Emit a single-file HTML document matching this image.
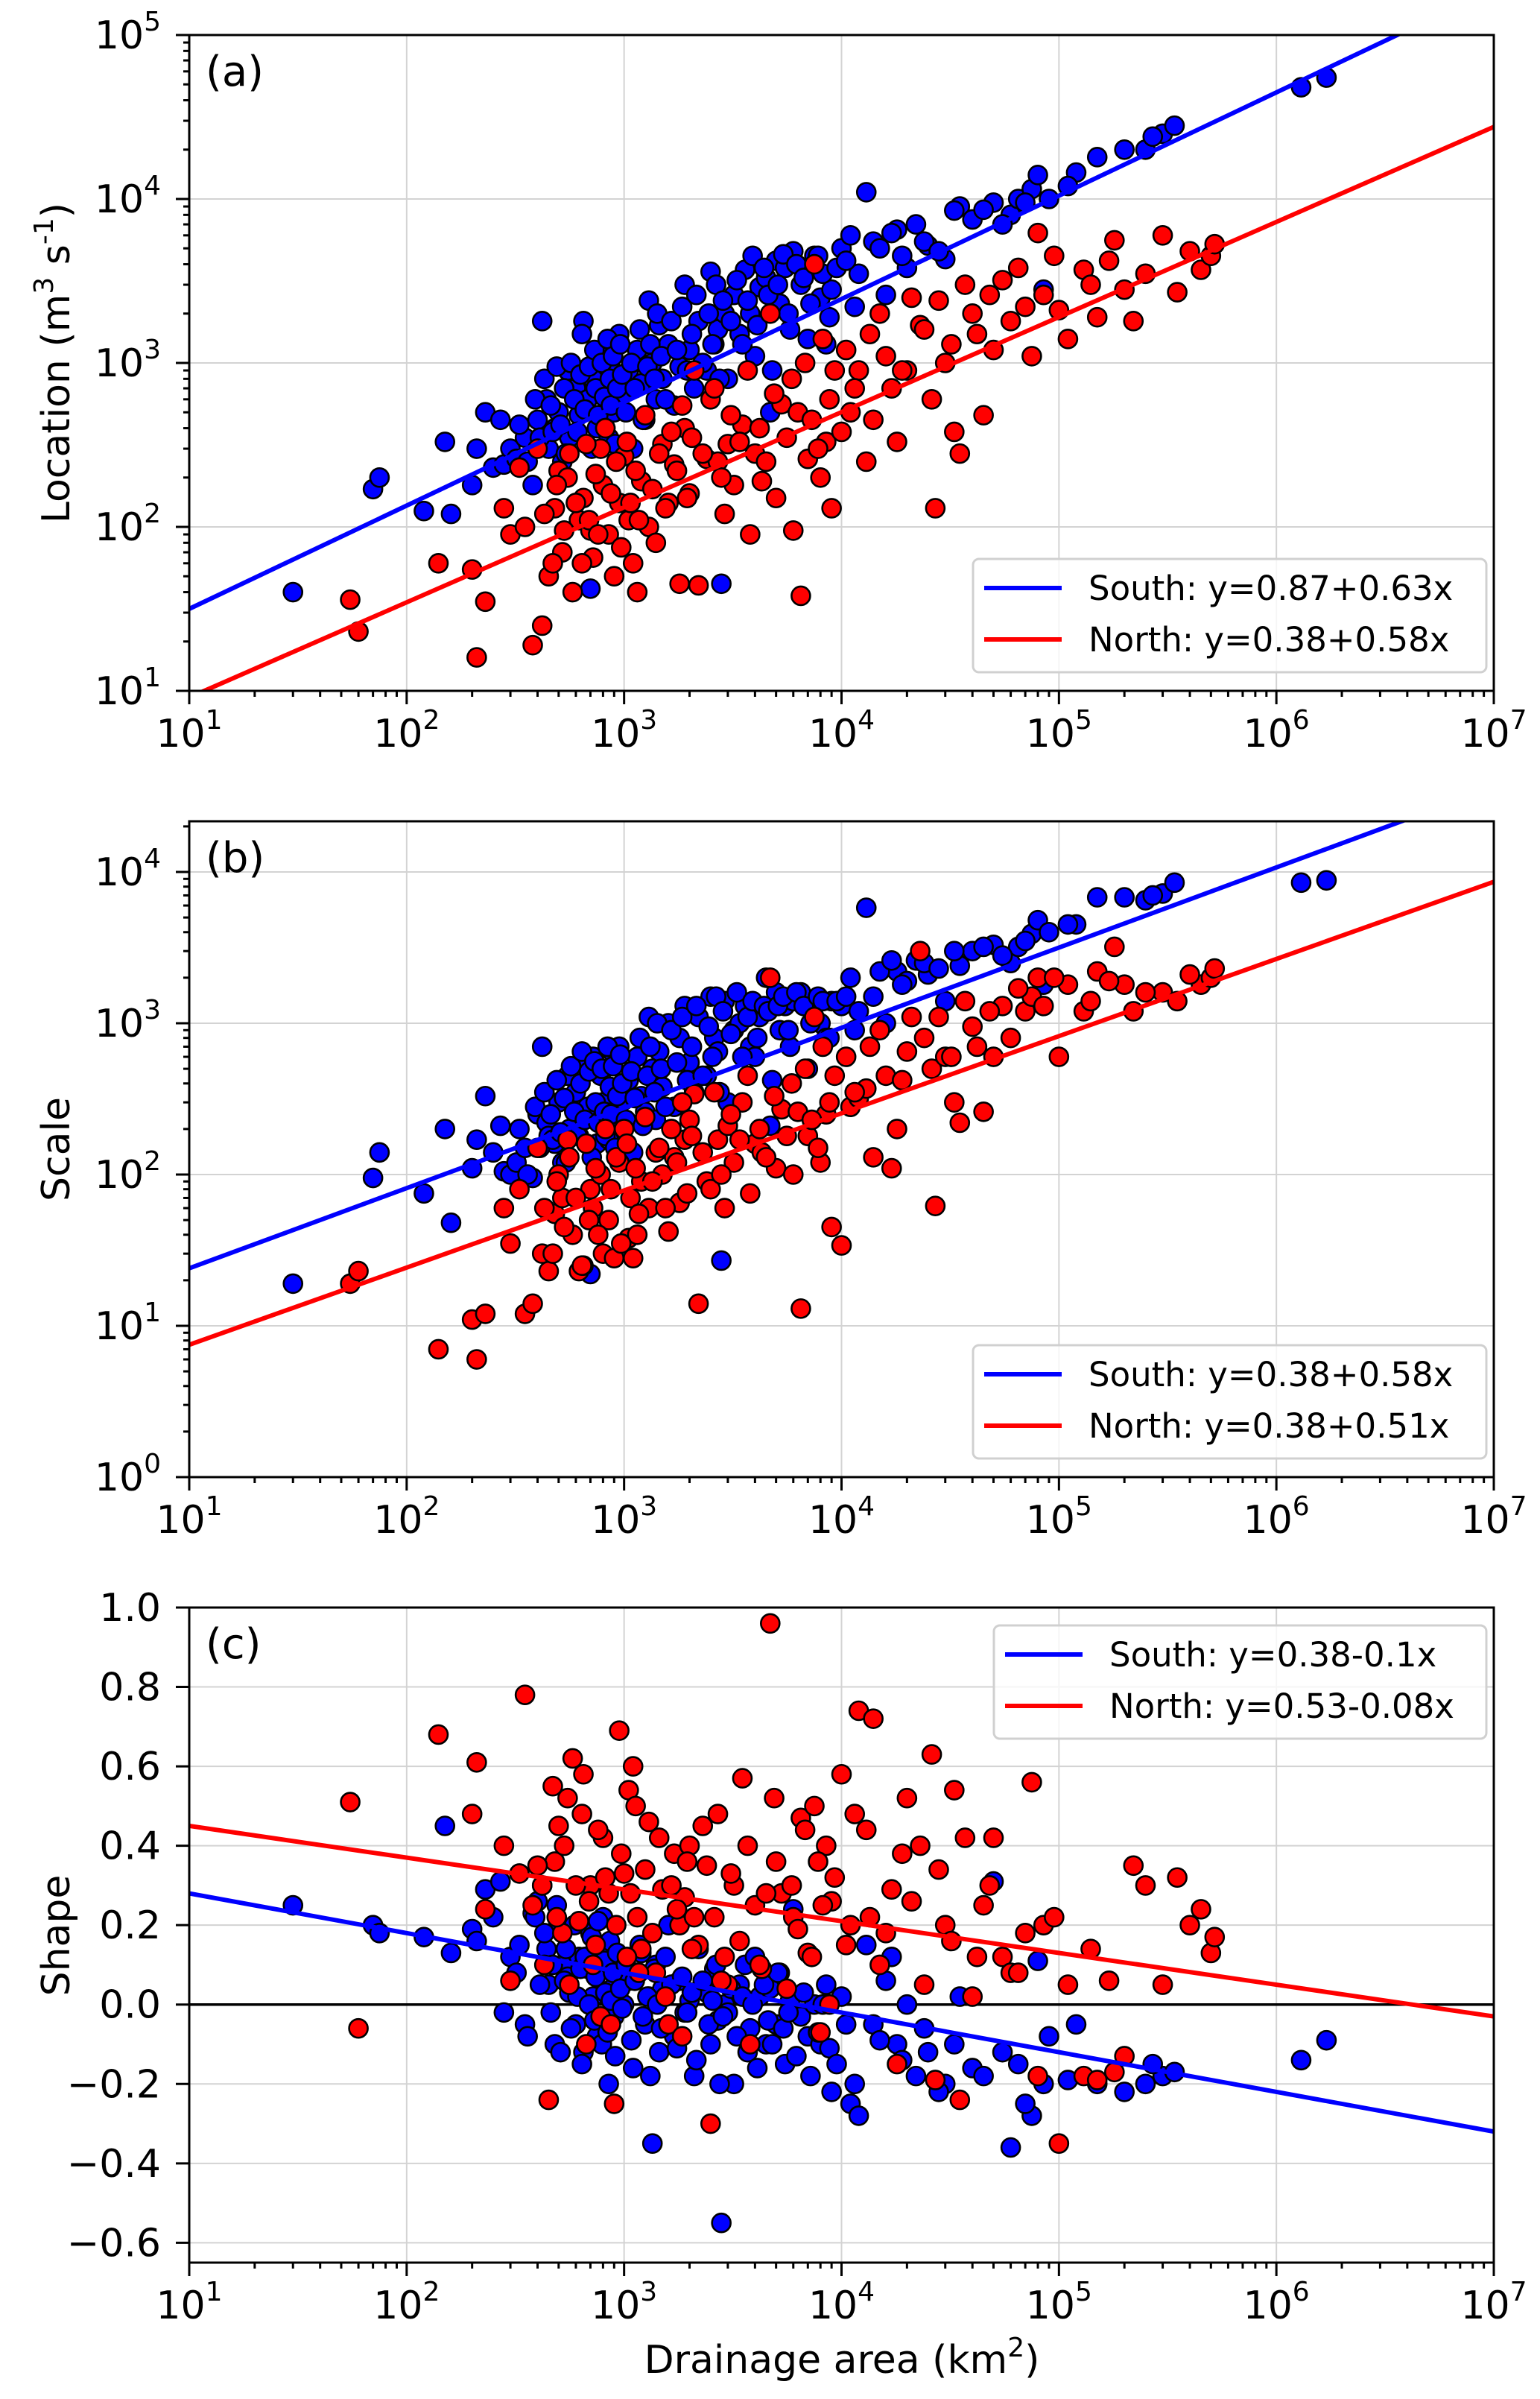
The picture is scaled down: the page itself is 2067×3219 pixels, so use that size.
<!DOCTYPE html>
<html><head><meta charset="utf-8"><style>
html,body{margin:0;padding:0;background:#fff}
svg{display:block;font-family:"DejaVu Sans","Liberation Sans",sans-serif}
</style></head><body>
<svg id="fig" width="2067" height="3219" viewBox="0 0 2067 3219" xmlns="http://www.w3.org/2000/svg">
<rect width="2067" height="3219" fill="#fff"/>
</svg>
<script>
// ---------- DATA ----------
const southArea1 = [30,70,75,120,150,160,200,210,230,250,270,280,300,320,350,380,400,420,440,450,480,500,520,550,560,600,620,650,680,700,720,750,780,800,850,880,900,950,1000,1050,1100,1150,1200,1250,1300,1350,1400,1450,1500,1600,1700,1800,1900,2000,2100,2200,2400,2500,2600,2700,2800,2900,3000,3200,3400,3600,3800,4000,4200,4500,4700,5000,5200,5500,5800,6000,6500,7000,7500,8000,8500,9000,10000,11000,12000,13000,14000,16000,18000,20000,22000,25000,30000,35000,40000,50000,60000,65000,75000,80000,85000,120000,150000,200000,300000,340000,1300000,1700000];
const southLocation1 = [40,170,200,125,330,120,180,300,500,230,450,240,300,260,350,180,450,1800,600,300,400,500,250,900,350,700,480,1800,600,42,800,400,1100,700,350,900,500,1500,650,900,300,1200,750,450,2400,1000,600,1700,800,1300,550,950,3000,1200,700,1800,900,3600,1300,1600,45,2000,800,2600,1500,3700,2000,1100,2900,3300,500,4200,2300,3800,1600,4800,3000,1400,4500,2500,1300,2800,5000,6000,3500,11000,5500,2600,6500,3800,7000,5200,4300,9000,7500,9500,8000,10000,11500,14000,2800,14500,18000,20000,25000,28000,48000,55000];
const southScale1 = [19,95,140,75,200,48,110,170,330,140,210,105,100,120,150,95,250,700,220,180,160,300,120,450,200,350,180,500,280,22,600,160,450,300,170,650,220,700,310,420,140,600,330,260,1100,500,230,650,380,1000,280,800,1300,550,350,1100,450,1500,800,650,27,1400,300,900,1000,1300,700,600,1100,2000,210,1600,900,1300,700,1400,1600,500,1300,1000,800,1400,1300,2000,1200,5800,1500,1000,2200,1900,2600,2100,1400,2400,3000,3300,2500,3200,3900,4800,1800,4500,6800,6800,7200,8500,8500,8800];
const southShape1 = [0.25,0.20,0.18,0.17,0.45,0.13,0.19,0.16,0.29,0.22,0.31,-0.02,0.12,0.08,-0.05,0.23,0.26,0.30,0.14,0.05,-0.10,0.20,0.10,0.07,0.03,-0.05,0.12,-0.12,0.09,0.18,0.02,-0.08,0.15,0.22,-0.20,0.04,-0.03,0.11,0.00,0.06,-0.16,0.08,0.13,-0.05,0.02,-0.35,0.10,-0.12,0.04,0.20,-0.08,0.06,-0.02,0.01,-0.18,0.14,0.03,-0.10,0.09,-0.04,-0.55,0.00,-0.02,-0.20,0.05,0.10,-0.06,0.12,0.02,-0.10,0.04,-0.05,0.08,-0.15,0.01,0.24,-0.03,-0.08,0.00,-0.10,0.05,-0.22,0.02,-0.25,-0.28,0.15,-0.05,0.06,-0.10,0.00,-0.18,-0.12,-0.20,0.02,-0.16,0.31,-0.36,-0.15,-0.28,0.11,-0.20,-0.05,-0.20,-0.22,-0.18,-0.17,-0.14,-0.09];

const southArea2 = [330,360,390,410,430,460,470,490,510,530,540,570,590,610,630,640,660,690,710,730,740,760,790,810,820,840,860,870,890,910,930,960,980,1020,1080,1120,1180,1220,1280,1320,1380,1420,1480,1550,1650,1750,1850,1950,2050,2150,2300,2450,2550,2650,2750,2850,3100,3300,3500,3700,3900,4100,4400,4600,4800,5100,5400,5700,6200,6700,7200,7800,8200,8800,9500,10500,11500,15000,17000,19000,24000,28000,33000,45000,55000,70000,90000,110000,250000,270000];
const southLocation2 = [420,250,600,350,800,550,380,950,420,700,280,1000,600,380,850,1500,520,950,300,1200,700,480,1000,620,400,1400,800,550,1100,320,700,1300,850,500,1000,700,1600,450,950,1300,800,2000,1100,600,1800,1200,2200,900,1500,2600,1000,2000,1300,3000,800,2400,1800,3200,1300,2400,4500,1700,3800,2600,900,3000,4600,2000,4000,3300,2300,4500,3500,1900,3800,4200,2200,5000,6200,4500,5500,4800,8500,8600,7000,9500,10000,12000,20000,24000];
const southScale2 = [200,100,280,150,350,250,170,420,190,320,120,520,260,180,400,650,230,480,130,560,300,220,500,260,180,700,380,250,520,150,330,620,400,230,480,320,800,210,450,700,350,1000,500,280,900,550,1100,420,700,1300,450,950,600,1500,350,1200,850,1600,600,1100,1400,800,1300,1200,420,1300,1500,900,1600,1300,1000,1500,1400,800,1400,1500,900,2200,2600,1800,2500,2300,3000,3200,2800,3500,4000,4500,6500,7000];
const southShape2 = [0.15,-0.08,0.22,0.05,0.18,-0.02,0.10,0.25,-0.12,0.06,0.14,-0.06,0.20,0.02,0.09,-0.15,0.12,0.00,0.17,-0.04,0.07,0.21,-0.10,0.11,0.03,-0.07,0.16,0.01,0.08,-0.13,0.13,0.04,-0.01,0.10,-0.09,0.06,0.15,-0.03,0.02,-0.18,0.09,0.00,-0.06,0.12,0.05,-0.11,0.07,-0.02,0.03,-0.14,0.06,-0.05,0.01,0.10,-0.20,-0.03,0.04,-0.08,0.02,-0.12,0.00,-0.16,0.05,-0.04,-0.10,0.08,-0.06,-0.02,-0.13,0.03,-0.18,-0.07,0.00,-0.11,-0.15,-0.05,-0.20,-0.09,0.12,-0.14,-0.06,-0.22,-0.10,-0.18,-0.12,-0.25,-0.08,-0.19,-0.20,-0.15];

const northArea1 = [55,60,140,200,210,230,280,300,330,350,380,420,450,480,500,520,550,580,620,650,700,720,780,800,850,900,950,1000,1050,1100,1150,1200,1300,1400,1500,1600,1700,1800,1900,2000,2100,2200,2400,2500,2700,2900,3000,3200,3500,3800,4000,4300,4700,5000,5300,6000,6500,7000,7500,8000,8500,9000,10000,11000,12000,13000,14000,16000,17000,18000,20000,23000,26000,27000,30000,33000,35000,40000,45000,50000,55000,60000,70000,75000,80000,100000,110000,130000,150000,180000,200000,220000,300000,350000,450000,500000,520000];
const northLocation1 = [36,23,60,55,16,35,130,90,230,100,19,25,50,130,220,70,200,40,110,150,95,65,300,180,90,50,140,270,110,60,40,190,100,80,320,140,240,45,400,160,900,44,260,600,250,120,320,180,420,90,280,190,2000,150,560,95,38,260,4000,200,330,130,380,500,900,250,450,1100,700,330,900,1700,600,130,1000,380,280,2000,480,1200,3200,1800,2200,1100,6200,2100,1400,3700,1900,5600,2800,1800,6000,2700,3700,4500,5300];
const northScale1 = [19,23,7,11,6,12,60,35,80,12,14,30,23,55,100,70,170,40,23,25,80,60,100,30,50,28,120,200,38,28,40,90,60,140,100,42,130,65,170,230,340,14,90,80,170,60,210,120,300,75,160,140,2000,110,270,100,13,180,1100,120,250,45,34,280,320,370,130,450,110,200,650,3000,500,62,600,300,220,950,260,600,1300,800,1200,1500,2000,600,1800,1200,2200,3200,1800,1200,1600,1400,1800,2000,2300];
const northShape1 = [0.51,-0.06,0.68,0.48,0.61,0.24,0.40,0.06,0.33,0.78,0.25,0.30,-0.24,0.36,0.45,0.18,0.52,0.62,0.21,0.58,0.30,0.10,-0.03,0.42,0.28,-0.25,0.69,0.33,0.54,0.60,0.22,0.14,0.46,0.08,0.29,-0.05,0.38,0.20,0.27,0.40,0.22,0.15,0.35,-0.30,0.48,0.12,0.05,0.30,0.57,-0.10,0.25,0.09,0.96,0.36,0.28,0.22,0.47,0.13,0.50,-0.07,0.40,0.26,0.58,0.20,0.74,0.44,0.72,0.18,0.29,-0.15,0.52,0.40,0.63,-0.19,0.20,0.54,-0.24,0.02,0.25,0.42,0.12,0.08,0.18,0.56,-0.18,-0.35,0.05,-0.18,-0.19,-0.17,-0.13,0.35,0.05,0.32,0.24,0.13,0.17];

const northArea2 = [400,430,470,490,530,560,600,640,670,690,740,760,820,870,920,970,1030,1070,1130,1170,1250,1350,1450,1550,1650,1750,1850,1950,2050,2300,2600,2800,3100,3400,3700,4200,4500,4900,5600,5900,6300,6800,7300,7800,8200,8800,9300,10500,11500,13500,15000,19000,21000,24000,28000,32000,37000,42000,48000,65000,85000,95000,140000,170000,250000,400000];
const northLocation2 = [300,120,60,180,95,280,140,60,320,110,210,90,400,160,250,75,330,140,220,110,480,170,280,130,380,220,550,150,350,280,700,200,480,330,900,400,250,650,350,800,500,1000,450,300,1400,600,900,1200,700,1500,2000,900,2500,1600,2400,1300,3000,1500,2600,3800,2600,4500,3000,4200,3500,4800];
const northScale2 = [150,60,30,90,45,130,70,25,160,50,110,40,200,80,130,35,160,70,110,55,240,90,150,60,200,120,300,75,180,140,350,100,250,170,450,200,130,330,180,400,260,500,230,150,700,300,450,600,350,700,900,420,1100,800,1100,600,1400,700,1200,1700,1300,2000,1400,1900,1600,2100];
const northShape2 = [0.35,0.10,0.55,0.22,0.40,0.05,0.30,0.48,-0.10,0.26,0.15,0.44,0.32,-0.05,0.20,0.38,0.12,0.28,0.50,0.08,0.34,0.18,0.42,0.02,0.30,0.24,-0.08,0.36,0.14,0.45,0.22,0.06,0.33,0.16,0.40,0.10,0.28,0.52,0.04,0.30,0.19,0.44,0.12,0.36,0.25,0.00,0.32,0.15,0.48,0.22,0.10,0.38,0.26,0.05,0.34,0.16,0.42,0.12,0.30,0.08,0.20,0.22,0.14,0.06,0.30,0.20];

const southArea = southArea1.concat(southArea2);
const southLocation = southLocation1.concat(southLocation2);
const southScale = southScale1.concat(southScale2);
const southShape = southShape1.concat(southShape2);
const northArea = northArea1.concat(northArea2);
const northLocation = northLocation1.concat(northLocation2);
const northScale = northScale1.concat(northScale2);
const northShape = northShape1.concat(northShape2);

// regression lines: y = a + b*log10(x)  (log10 of y for panels a,b)
const fitA = {south:[0.87,0.63], north:[0.38,0.58]};
const fitB = {south:[0.85,0.53], north:[0.365,0.51]};
const fitC = {south:[0.38,-0.10], north:[0.53,-0.08]};
const legendA = ["South: y=0.87+0.63x","North: y=0.38+0.58x"];
const legendB = ["South: y=0.38+0.58x","North: y=0.38+0.51x"];
const legendC = ["South: y=0.38-0.1x","North: y=0.53-0.08x"];
const xDecades = [1,2,3,4,5,6,7];
const yTicksC = [1.0,0.8,0.6,0.4,0.2,0.0,-0.2,-0.4,-0.6];

// ---------- LAYOUT ----------
const NS="http://www.w3.org/2000/svg";
const svg=document.getElementById('fig');
const L=254,R=2005;
const xs=v=>L+(Math.log10(v)-1)*(R-L)/6;
function el(tag,attrs,parent){const e=document.createElementNS(NS,tag);for(const k in attrs)e.setAttribute(k,attrs[k]);(parent||svg).appendChild(e);return e;}

const panels=[
 {key:'a',top:47,bot:927,log:true,ymin:1,ymax:5,south:southLocation,north:northLocation,fit:fitA,leg:legendA,legPos:[1306,750,689],label:'(a)'},
 {key:'b',top:1102,bot:1982,log:true,ymin:0,ymax:4.335,south:southScale,north:northScale,fit:fitB,leg:legendB,legPos:[1306,1805,689],label:'(b)'},
 {key:'c',top:2157,bot:3036,log:false,ymin:-0.65,ymax:1.0,south:southShape,north:northShape,fit:fitC,leg:legendC,legPos:[1334,2181,661],label:'(c)'}
];

panels.forEach(p=>{
  const ys=v=>{const t=p.log?Math.log10(v):v;return p.bot-(t-p.ymin)/(p.ymax-p.ymin)*(p.bot-p.top);};
  const ysl=t=>p.bot-(t-p.ymin)/(p.ymax-p.ymin)*(p.bot-p.top);
  const g=el('g',{});
  
  
  const cp=el('clipPath',{id:'clip'+p.key},g);
  el('rect',{x:L,y:p.top,width:R-L,height:p.bot-p.top},cp);
  const grid=el('g',{stroke:'#d3d3d3','stroke-width':2},g);
  
  
  xDecades.forEach(d=>{const x=L+(d-1)*(R-L)/6;el('line',{x1:x,x2:x,y1:p.top,y2:p.bot},grid);});
  let yMajors=[];
  if(p.log){for(let d=Math.ceil(p.ymin);d<=p.ymax;d++)yMajors.push(d);}
  else yMajors=yTicksC;
  yMajors.forEach(t=>{const y=ysl(t);el('line',{x1:L,x2:R,y1:y,y2:y},grid);});
  if(p.key==='c'){const z=el('line',{x1:L,x2:R,y1:ysl(0),y2:ysl(0),stroke:'#000','stroke-width':3.5},g);
    }
  const pts=el('g',{'clip-path':'url(#clip'+p.key+')',stroke:'#000','stroke-width':2.6},g);
  southArea.forEach((a,i)=>{if(p.south[i]===undefined)return;const c=el('circle',{cx:xs(a),cy:ys(p.south[i]),r:12.5,fill:'#0000ff'},pts);
    });
  northArea.forEach((a,i)=>{if(p.north[i]===undefined)return;const c=el('circle',{cx:xs(a),cy:ys(p.north[i]),r:12.5,fill:'#ff0000'},pts);
    });
  [['south','#0000ff'],['north','#ff0000']].forEach(([k,col])=>{
    const [a,b]=p.fit[k];
    const ln=el('line',{x1:xs(10),y1:ysl(a+b*1),x2:xs(1e7),y2:ysl(a+b*7),stroke:col,'stroke-width':6,'clip-path':'url(#clip'+p.key+')'},g);
    
  });
  const fr=el('rect',{x:L,y:p.top,width:R-L,height:p.bot-p.top,fill:'none',stroke:'#000','stroke-width':3},g);
  
  const tk=el('g',{stroke:'#000','stroke-width':3},g);
  for(let d=1;d<=7;d++){const x=L+(d-1)*(R-L)/6;el('line',{x1:x,x2:x,y1:p.bot,y2:p.bot+18},tk);
    if(d<7)for(let m=2;m<=9;m++){const xm=L+(d-1+Math.log10(m))*(R-L)/6;el('line',{x1:xm,x2:xm,y1:p.bot,y2:p.bot+8},tk);}
    const t=el('text',{x:x,y:p.bot+75,'font-size':52,'text-anchor':'middle',fill:'#000'},g);
    
    t.appendChild(document.createTextNode('10'));
    const s=el('tspan',{'font-size':36,dy:-24},t);s.textContent=String(d);}
  if(p.log){
    for(let d=Math.floor(p.ymin);d<=Math.ceil(p.ymax);d++){
      if(d>=p.ymin&&d<=p.ymax){const y=ysl(d);el('line',{x1:L-18,x2:L,y1:y,y2:y},tk);
        const t=el('text',{x:216,y:y+18,'font-size':52,'text-anchor':'end',fill:'#000'},g);
        
        t.appendChild(document.createTextNode('10'));
        const s=el('tspan',{'font-size':36,dy:-24},t);s.textContent=String(d);}
      for(let m=2;m<=9;m++){const tt=d+Math.log10(m);if(tt>p.ymin&&tt<p.ymax){const y=ysl(tt);el('line',{x1:L-8,x2:L,y1:y,y2:y},tk);}}
    }
  } else {
    yTicksC.forEach(v=>{const y=ysl(v);el('line',{x1:L-18,x2:L,y1:y,y2:y},tk);
      const t=el('text',{x:216,y:y+18,'font-size':52,'text-anchor':'end',fill:'#000'},g);
      
      t.textContent=(v<0?'\u2212':'')+Math.abs(v).toFixed(1);});
  }
  const pl=el('text',{x:276,y:p.top+68,'font-size':56,fill:'#000'},g);
  
  pl.textContent=p.label;
  const [lx,ly,lw]=p.legPos;
  const lg=el('g',{},g);
  
  el('rect',{x:lx,y:ly,width:lw,height:152,rx:8,fill:'#fff','fill-opacity':0.8,stroke:'#d0d0d0','stroke-width':3},lg);
  [['#0000ff',p.leg[0]],['#ff0000',p.leg[1]]].forEach(([col,txt],i)=>{
    const cy=ly+39+i*69;
    const e=el('g',{},lg);
    
    el('line',{x1:lx+15,x2:lx+119,y1:cy,y2:cy,stroke:col,'stroke-width':6},e);
    const t=el('text',{x:lx+155,y:cy+16,'font-size':45,fill:'#000'},e);t.textContent=txt;
  });
});

var ts_prev_sup=false;
function ylab(name,y,parts){const t=el('text',{x:0,y:0,'font-size':52,'text-anchor':'middle',fill:'#000',transform:`translate(93,${y}) rotate(-90)`});
  
  parts.forEach(([s,sup])=>{const ts=el('tspan',sup?{'font-size':36,dy:-22}:(ts_prev_sup?{dy:22}:{}),t);ts.textContent=s;ts_prev_sup=sup;});ts_prev_sup=false;}
ylab('y-axis-title-location',487,[['Location (m',0],['3',1],[' s',0],['-1',1],[')',0]]);
ylab('y-axis-title-scale',1542,[['Scale',0]]);
ylab('y-axis-title-shape',2597,[['Shape',0]]);
const xl=el('text',{x:1130,y:3184,'font-size':52,'text-anchor':'middle',fill:'#000'});

xl.appendChild(document.createTextNode('Drainage area (km'));
const s2=el('tspan',{'font-size':36,dy:-22},xl);s2.textContent='2';
const s3=el('tspan',{dy:22},xl);s3.textContent=')';
</script>
</body></html>
